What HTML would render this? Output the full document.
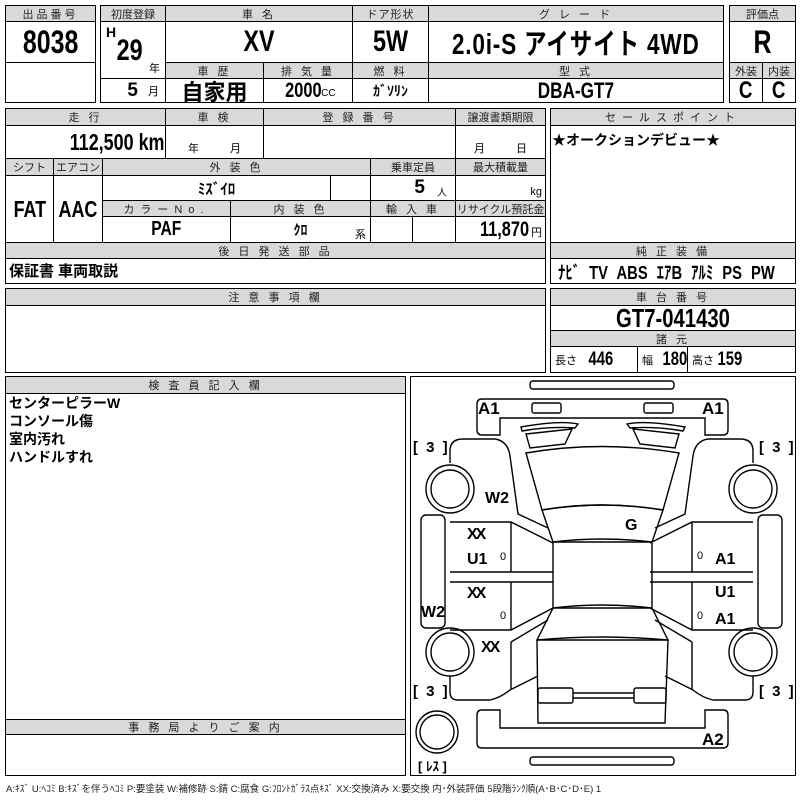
<!DOCTYPE html>
<html><head><meta charset="utf-8"><style>
body{margin:0;background:#fff;width:800px;height:800px;position:relative;overflow:hidden;font-family:"Liberation Sans","Noto Sans CJK JP",sans-serif;}
.c{position:absolute;box-sizing:border-box;border:1px solid #000;display:flex;align-items:center;justify-content:center;white-space:nowrap;overflow:hidden;}
.h{background:#d9d9d9;font-size:11px;letter-spacing:3px;color:#222;}
.b{font-family:"Liberation Sans","Noto Sans CJK JP",sans-serif;font-weight:bold;}
.n{display:inline-block;transform:scaleX(.78);}
.j{font-family:"Liberation Sans","Noto Sans CJK JP",sans-serif;font-weight:bold;}
.t{position:absolute;white-space:nowrap;}
</style></head><body>
<!-- Box 1 -->
<div class="c" style="left:5px;top:5px;width:91px;height:98px;border-width:1.5px"></div>
<div class="c h" style="left:5px;top:5px;width:91px;height:17px">出品番号</div>
<div class="c b" style="left:5px;top:21px;width:91px;height:42px;font-size:32px"><span class="n">8038</span></div>
<!-- Box 2 -->
<div class="c" style="left:100px;top:5px;width:624px;height:98px;border-width:1.5px"></div>
<div class="c h" style="left:100px;top:5px;width:66px;height:17px;letter-spacing:0">初度登録</div>
<div class="c h" style="left:165px;top:5px;width:188px;height:17px">車 名</div>
<div class="c h" style="left:352px;top:5px;width:77px;height:17px;letter-spacing:1px">ドア形状</div>
<div class="c h" style="left:428px;top:5px;width:296px;height:17px">グ レ ー ド</div>
<div class="c" style="left:100px;top:21px;width:66px;height:58px"></div>
<div class="t b" style="left:106px;top:24px;font-size:14px">H</div>
<div class="t b" style="left:113px;top:34px;font-size:30px"><span class="n">29</span></div>
<div class="t" style="left:149px;top:60px;font-size:11px">年</div>
<div class="c b" style="left:165px;top:21px;width:188px;height:42px;font-size:30px"><span class="n">XV</span></div>
<div class="c b" style="left:352px;top:21px;width:77px;height:42px;font-size:30px"><span class="n">5W</span></div>
<div class="c b" style="left:428px;top:21px;width:296px;height:42px;font-size:29px;letter-spacing:1px"><span class="n">2.0i-S アイサイト 4WD</span></div>
<div class="c h" style="left:165px;top:62px;width:99px;height:17px">車 歴</div>
<div class="c h" style="left:263px;top:62px;width:90px;height:17px">排 気 量</div>
<div class="c h" style="left:352px;top:62px;width:77px;height:17px">燃 料</div>
<div class="c h" style="left:428px;top:62px;width:296px;height:17px">型 式</div>
<div class="c" style="left:100px;top:78px;width:66px;height:25px;justify-content:flex-end;padding-right:6px"><span class="b" style="font-size:19px">5</span><span style="font-size:11px;margin-left:10px">月</span></div>
<div class="c j" style="left:165px;top:78px;width:99px;height:25px;font-size:22px">自家用</div>
<div class="c" style="left:263px;top:78px;width:90px;height:25px"><span class="b n" style="font-size:21px;margin-right:-8px">2000</span><span style="font-size:10px;margin-left:2px;margin-top:6px">CC</span></div>
<div class="c j" style="left:352px;top:78px;width:77px;height:25px;font-size:14px">ｶﾞｿﾘﾝ</div>
<div class="c b" style="left:428px;top:78px;width:296px;height:25px;font-size:22px"><span class="n">DBA-GT7</span></div>
<!-- 評価点 -->
<div class="c" style="left:729px;top:5px;width:67px;height:98px;border-width:1.5px"></div>
<div class="c h" style="left:729px;top:5px;width:67px;height:17px;letter-spacing:0">評価点</div>
<div class="c b" style="left:729px;top:21px;width:67px;height:42px;font-size:32px"><span class="n">R</span></div>
<div class="c h" style="left:729px;top:62px;width:34px;height:17px;letter-spacing:0">外装</div>
<div class="c h" style="left:762px;top:62px;width:34px;height:17px;letter-spacing:0">内装</div>
<div class="c b" style="left:729px;top:78px;width:34px;height:25px;font-size:24px"><span class="n">C</span></div>
<div class="c b" style="left:762px;top:78px;width:34px;height:25px;font-size:24px"><span class="n">C</span></div>
<!-- Row 2 -->
<div class="c" style="left:5px;top:108px;width:541px;height:176px;border-width:1.5px"></div>
<div class="c h" style="left:5px;top:108px;width:161px;height:18px">走 行</div>
<div class="c h" style="left:165px;top:108px;width:99px;height:18px">車 検</div>
<div class="c h" style="left:263px;top:108px;width:193px;height:18px">登 録 番 号</div>
<div class="c h" style="left:455px;top:108px;width:91px;height:18px;letter-spacing:0">譲渡書類期限</div>
<div class="c" style="left:5px;top:125px;width:161px;height:34px;justify-content:flex-end;padding-right:0px"><span class="b n" style="font-size:23px;transform-origin:right;">112,500 km</span></div>
<div class="c" style="left:165px;top:125px;width:99px;height:34px;align-items:flex-end;font-size:11px;padding-bottom:2px;word-spacing:28px">年 月</div>
<div class="c" style="left:263px;top:125px;width:193px;height:34px"></div>
<div class="c" style="left:455px;top:125px;width:91px;height:34px;align-items:flex-end;font-size:11px;padding-bottom:2px;word-spacing:28px">月 日</div>
<div class="c h" style="left:5px;top:158px;width:49px;height:18px;letter-spacing:0">シフト</div>
<div class="c h" style="left:53px;top:158px;width:50px;height:18px;letter-spacing:0">エアコン</div>
<div class="c h" style="left:102px;top:158px;width:269px;height:18px">外 装 色</div>
<div class="c h" style="left:370px;top:158px;width:86px;height:18px;letter-spacing:0">乗車定員</div>
<div class="c h" style="left:455px;top:158px;width:91px;height:18px;letter-spacing:0">最大積載量</div>
<div class="c b" style="left:5px;top:175px;width:49px;height:68px;font-size:23px"><span class="n">FAT</span></div>
<div class="c b" style="left:53px;top:175px;width:50px;height:68px;font-size:23px"><span class="n">AAC</span></div>
<div class="c j" style="left:102px;top:175px;width:229px;height:26px;font-size:15px">ﾐｽﾞｲﾛ</div>
<div class="c" style="left:330px;top:175px;width:41px;height:26px"></div>
<div class="c" style="left:370px;top:175px;width:86px;height:26px;justify-content:flex-end;padding-right:8px"><span class="b" style="font-size:19px">5</span><span style="font-size:10px;margin-left:12px;margin-top:6px">人</span></div>
<div class="c" style="left:455px;top:175px;width:91px;height:26px;justify-content:flex-end;align-items:flex-end;padding:0 3px 2px 0;font-size:11px">kg</div>
<div class="c h" style="left:102px;top:200px;width:129px;height:17px;letter-spacing:6px">カラーNo.</div>
<div class="c h" style="left:230px;top:200px;width:141px;height:17px">内 装 色</div>
<div class="c h" style="left:370px;top:200px;width:86px;height:17px">輸 入 車</div>
<div class="c h" style="left:455px;top:200px;width:91px;height:17px;letter-spacing:0">リサイクル預託金</div>
<div class="c b" style="left:102px;top:216px;width:129px;height:27px;font-size:20px"><span class="n">PAF</span></div>
<div class="c j" style="left:230px;top:216px;width:141px;height:27px;font-size:14px">ｸﾛ</div>
<div class="t" style="left:355px;top:226px;font-size:11px">系</div>
<div class="c" style="left:370px;top:216px;width:43px;height:27px"></div>
<div class="c" style="left:412px;top:216px;width:44px;height:27px"></div>
<div class="c" style="left:455px;top:216px;width:91px;height:27px;justify-content:flex-end;padding-right:3px"><span class="b n" style="font-size:21px;margin-right:-6px">11,870</span><span style="font-size:11px;margin-left:1px;margin-top:4px">円</span></div>
<div class="c h" style="left:5px;top:242px;width:541px;height:17px">後 日 発 送 部 品</div>
<div class="t j" style="left:9px;top:260px;font-size:15px">保証書 車両取説</div>
<!-- Sales point -->
<div class="c" style="left:550px;top:108px;width:246px;height:176px;border-width:1.5px"></div>
<div class="c h" style="left:550px;top:108px;width:246px;height:18px;letter-spacing:6px">セールスポイント</div>
<div class="t j" style="left:552px;top:130px;font-size:14px">★オークションデビュー★</div>
<div class="c h" style="left:550px;top:242px;width:246px;height:17px">純 正 装 備</div>
<div class="t b" style="left:558px;top:259px;font-size:18px;word-spacing:6px;transform:scaleX(.82);transform-origin:left">ﾅﾋﾞ TV ABS ｴｱB ｱﾙﾐ PS PW</div>
<!-- Notes -->
<div class="c" style="left:5px;top:288px;width:541px;height:85px;border-width:1.5px"></div>
<div class="c h" style="left:5px;top:288px;width:541px;height:18px">注 意 事 項 欄</div>
<div class="c" style="left:550px;top:288px;width:246px;height:85px;border-width:1.5px"></div>
<div class="c h" style="left:550px;top:288px;width:246px;height:18px">車 台 番 号</div>
<div class="c b" style="left:550px;top:305px;width:246px;height:26px;font-size:26px"><span class="n">GT7-041430</span></div>
<div class="c h" style="left:550px;top:330px;width:246px;height:17px">諸 元</div>
<div class="c" style="left:550px;top:346px;width:88px;height:27px;justify-content:flex-start;padding-left:4px"><span style="font-size:11px">長さ</span><span class="b n" style="font-size:19px;margin-left:8px">446</span></div>
<div class="c" style="left:637px;top:346px;width:51px;height:27px;justify-content:flex-start;padding-left:4px"><span style="font-size:11px">幅</span><span class="b n" style="font-size:19px;margin-left:6px">180</span></div>
<div class="c" style="left:687px;top:346px;width:109px;height:27px;justify-content:flex-start;padding-left:4px"><span style="font-size:11px">高さ</span><span class="b n" style="font-size:19px;margin-left:0px">159</span></div>
<!-- Inspector -->
<div class="c" style="left:5px;top:376px;width:401px;height:400px;border-width:1.5px"></div>
<div class="c h" style="left:5px;top:376px;width:401px;height:18px">検 査 員 記 入 欄</div>
<div class="t j" style="left:9px;top:394px;font-size:14px;line-height:18px">センターピラーW<br>コンソール傷<br>室内汚れ<br>ハンドルすれ</div>
<div class="c h" style="left:5px;top:719px;width:401px;height:16px">事 務 局 よ り ご 案 内</div>
<!-- Diagram -->
<div class="c" style="left:410px;top:376px;width:386px;height:400px;border-width:1.5px"></div>
<svg style="position:absolute;left:0;top:0" width="800" height="800" fill="none" stroke="#000" stroke-width="1.4">
<rect x="530" y="381" width="144" height="8" rx="3"/>
<rect x="530" y="757" width="144" height="8" rx="3"/>
<path d="M482,399 L723,399 Q728,399 728,404 L728,430 Q728,435 723,435 L705,435 L705,418 L500,418 L500,435 L482,435 Q477,435 477,430 L477,404 Q477,399 482,399Z"/>
<rect x="532" y="403" width="29" height="10" rx="2"/>
<rect x="644" y="403" width="29" height="10" rx="2"/>
<path d="M482,710 L500,710 L500,728 L705,728 L705,710 L723,710 Q728,710 728,715 L728,743 Q728,748 723,748 L482,748 Q477,748 477,743 L477,715 Q477,710 482,710Z"/>
<path d="M521,427 Q560,420 578,424 L575,428 Q550,426 522,431Z"/>
<path d="M526,434 L572,429 L565,444 L530,448Z"/>
<path d="M685,427 Q645,420 627,424 L630,428 Q655,426 683,431Z"/>
<path d="M679,434 L633,429 L640,444 L675,448Z"/>
<path d="M526,453 Q602,440 679,453 L663,510 Q602,500 542,510Z"/>
<path d="M542,510 Q602,500 663,510 L652,542 Q602,536 553,542Z"/>
<path d="M553,542 L652,542 L652,608 L553,608Z"/>
<path d="M553,608 Q602,602 652,608 L668,640 Q602,634 537,640Z"/>
<path d="M537,640 L668,640 L665,723 L538,723Z"/>
<rect x="538" y="688" width="35" height="15" rx="2"/>
<rect x="634" y="688" width="32" height="15" rx="2"/>
<line x1="573" y1="693" x2="634" y2="693"/><line x1="573" y1="698" x2="634" y2="698"/>
<g id="side">
<path d="M450,463 L450,451 Q450,439 463,439 L495,439 Q508,441 510,456 L518,514 L548,528"/>
<circle cx="450" cy="489" r="24"/><circle cx="450" cy="489" r="19"/>
<circle cx="450" cy="652" r="24"/><circle cx="450" cy="652" r="19"/>
<rect x="421" y="515" width="24" height="113" rx="5"/>
<path d="M450,522 L511,522 L553,543 M450,572 L553,572 M450,582 L553,582 M450,630 L511,630 L553,608 M511,522 L511,572 M511,582 L511,630"/>
<path d="M450,676 L450,692 Q450,700 458,700 L490,700 Q500,698 510,690 L538,676 M511,642 L548,620 M511,642 L511,690"/>
</g>
<use href="#side" transform="translate(1203,0) scale(-1,1)"/>
<circle cx="437" cy="732" r="21"/><circle cx="437" cy="732" r="17"/>
</svg>
<div class="t j" style="font-size:17px;left:478px;top:399px">A1</div>
<div class="t j" style="font-size:17px;left:702px;top:399px">A1</div>
<div class="t j" style="font-size:15px;left:413px;top:439px;word-spacing:4px">[ 3 ]</div>
<div class="t j" style="font-size:15px;left:759px;top:439px;word-spacing:4px">[ 3 ]</div>
<div class="t j" style="font-size:15px;left:413px;top:683px;word-spacing:4px">[ 3 ]</div>
<div class="t j" style="font-size:15px;left:759px;top:683px;word-spacing:4px">[ 3 ]</div>
<div class="t j" style="font-size:16px;left:485px;top:490px">W2</div>
<div class="t j" style="font-size:16px;left:625px;top:517px">G</div>
<div class="t j" style="font-size:16px;left:467px;top:526px;letter-spacing:-2px">XX</div>
<div class="t j" style="font-size:16px;left:467px;top:551px">U1</div>
<div class="t j" style="font-size:16px;left:467px;top:585px;letter-spacing:-2px">XX</div>
<div class="t j" style="font-size:16px;left:421px;top:604px">W2</div>
<div class="t j" style="font-size:16px;left:481px;top:639px;letter-spacing:-2px">XX</div>
<div class="t j" style="font-size:16px;left:715px;top:551px">A1</div>
<div class="t j" style="font-size:16px;left:715px;top:584px">U1</div>
<div class="t j" style="font-size:16px;left:715px;top:611px">A1</div>
<div class="t" style="font-size:11px;left:500px;top:551px">0</div>
<div class="t" style="font-size:11px;left:500px;top:610px">0</div>
<div class="t" style="font-size:11px;left:697px;top:550px">0</div>
<div class="t" style="font-size:11px;left:697px;top:610px">0</div>
<div class="t j" style="font-size:17px;left:702px;top:730px">A2</div>
<div class="t j" style="font-size:13px;left:418px;top:756px">[ ﾚｽ ]</div>
<div class="t" style="left:6px;top:781px;font-size:9.5px;color:#222">A:ｷｽﾞ U:ﾍｺﾐ B:ｷｽﾞを伴うﾍｺﾐ P:要塗装 W:補修跡 S:錆 C:腐食 G:ﾌﾛﾝﾄｶﾞﾗｽ点ｷｽﾞ XX:交換済み X:要交換 内･外装評価 5段階ﾗﾝｸ順(A･B･C･D･E) 1</div>
</body></html>
